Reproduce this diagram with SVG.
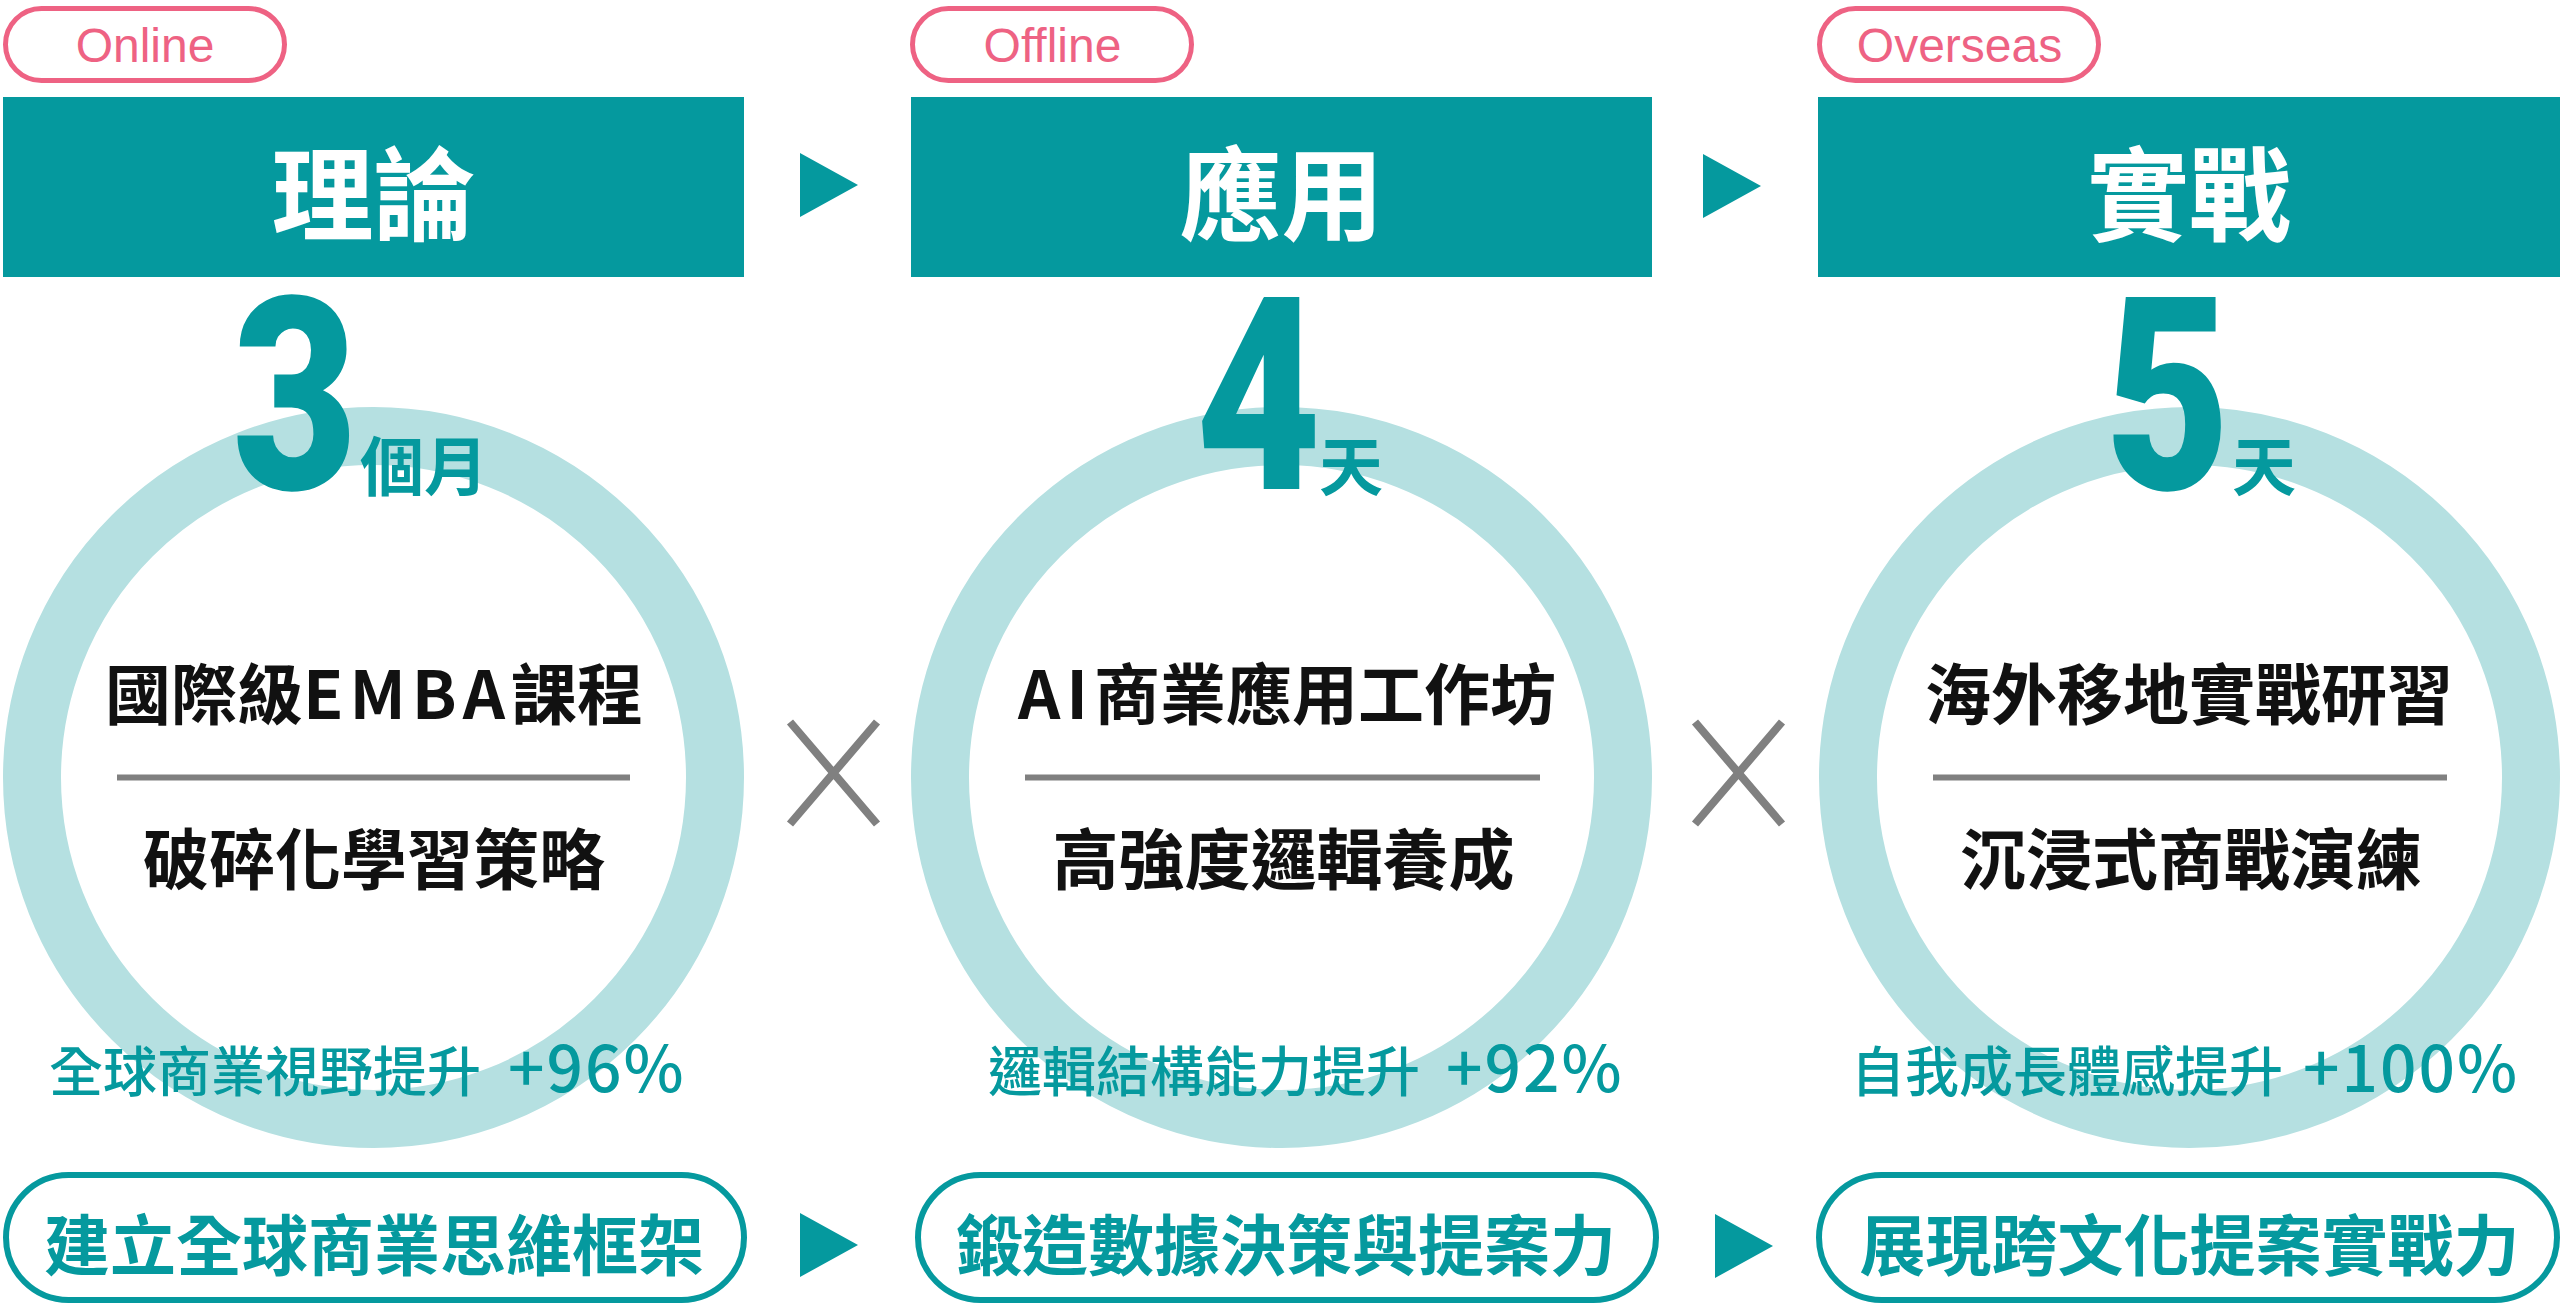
<svg xmlns="http://www.w3.org/2000/svg" width="2560" height="1313" viewBox="0 0 2560 1313">
<style>
.tag{fill:#fff;stroke:#EE6283;stroke-width:5}
.tagt{font-family:"Liberation Sans",Arial,sans-serif;font-size:48px;fill:#EE6283;text-anchor:middle}
.hdr{fill:#05999E}
.hdrt{font-family:"Noto Sans CJK TC","Noto Sans CJK SC",sans-serif;font-weight:700;font-size:102px;fill:#fff;text-anchor:middle}
.ring{fill:none;stroke:#B5E0E1;stroke-width:58}
.num{font-family:Roboto,"Liberation Sans",sans-serif;font-weight:900;font-size:270px;fill:#05999E;text-anchor:middle}
.unit{font-family:"Noto Sans CJK TC","Noto Sans CJK SC",sans-serif;font-weight:700;font-size:64px;fill:#05999E}
.main{font-family:"Noto Sans CJK TC","Noto Sans CJK SC",sans-serif;font-weight:700;font-size:66px;fill:#111;text-anchor:middle}
.sep{stroke:#808080;stroke-width:6}
.pct{font-family:"Noto Sans CJK TC","Noto Sans CJK SC",sans-serif;font-weight:500;font-size:54px;fill:#05999E}
.pctn{font-size:64px;letter-spacing:2px}
.pill{fill:none;stroke:#05999E;stroke-width:6}
.pillt{font-family:"Noto Sans CJK TC","Noto Sans CJK SC",sans-serif;font-weight:700;font-size:66px;fill:#05999E;text-anchor:middle}
.arr{fill:#05999E}
.times{stroke:#808080;stroke-width:8;fill:none}
</style>
<rect width="2560" height="1313" fill="#fff"/>

<g id="col-online">
  <g id="tag-online"><rect class="tag" x="5.5" y="8.5" width="279" height="72" rx="36"/><text class="tagt" x="145" y="62">Online</text></g>
  <g id="header-theory"><rect class="hdr" x="3" y="97" width="741" height="180"/><text class="hdrt" x="373.5" y="233">理論</text></g>
  <g id="circle-theory">
    <circle class="ring" cx="373.5" cy="777.5" r="341.5"/>
    <text class="num" transform="translate(295,489) scale(0.8,1)">3</text>
    <text class="unit" x="360" y="490">個月</text>
    <text class="main" x="374" y="719">國際級<tspan letter-spacing="6">EMBA</tspan>課程</text>
    <line class="sep" x1="117" y1="777.5" x2="630" y2="777.5"/>
    <text class="main" x="374" y="884">破碎化學習策略</text>
    <text class="pct" x="49" y="1092">全球商業視野提升<tspan class="pctn" x="508">+96%</tspan></text>
  </g>
  <g id="outcome-theory"><rect class="pill" x="6" y="1175" width="738" height="125" rx="62.5"/><text class="pillt" x="374" y="1270">建立全球商業思維框架</text></g>
</g>

<g id="col-offline">
  <g id="tag-offline"><rect class="tag" x="912.5" y="8.5" width="279" height="72" rx="36"/><text class="tagt" x="1052.5" y="62">Offline</text></g>
  <g id="header-application"><rect class="hdr" x="911" y="97" width="741" height="180"/><text class="hdrt" x="1281.5" y="233">應用</text></g>
  <g id="circle-application">
    <circle class="ring" cx="1281.5" cy="777.5" r="341.5"/>
    <text class="num" transform="translate(1258.5,489) scale(0.8,1)">4</text>
    <text class="unit" x="1319" y="490">天</text>
    <text class="main" x="1287" y="719"><tspan letter-spacing="6">AI</tspan>商業應用工作坊</text>
    <line class="sep" x1="1025" y1="777.5" x2="1540" y2="777.5"/>
    <text class="main" x="1283.5" y="884">高強度邏輯養成</text>
    <text class="pct" x="988" y="1092">邏輯結構能力提升<tspan class="pctn" x="1446">+92%</tspan></text>
  </g>
  <g id="outcome-application"><rect class="pill" x="918" y="1175" width="738" height="125" rx="62.5"/><text class="pillt" x="1286" y="1270">鍛造數據決策與提案力</text></g>
</g>

<g id="col-overseas">
  <g id="tag-overseas"><rect class="tag" x="1819.5" y="8.5" width="279" height="72" rx="36"/><text class="tagt" x="1959.5" y="62">Overseas</text></g>
  <g id="header-practice"><rect class="hdr" x="1818" y="97" width="742" height="180"/><text class="hdrt" x="2189" y="233">實戰</text></g>
  <g id="circle-practice">
    <circle class="ring" cx="2189.5" cy="777.5" r="341.5"/>
    <text class="num" transform="translate(2167.5,489) scale(0.8,1)">5</text>
    <text class="unit" x="2232" y="490">天</text>
    <text class="main" x="2189" y="719">海外移地實戰研習</text>
    <line class="sep" x1="1933" y1="777.5" x2="2447" y2="777.5"/>
    <text class="main" x="2191" y="884">沉浸式商戰演練</text>
    <text class="pct" x="1851" y="1092">自我成長體感提升<tspan class="pctn" x="2303">+100%</tspan></text>
  </g>
  <g id="outcome-practice"><rect class="pill" x="1819" y="1175" width="738" height="125" rx="62.5"/><text class="pillt" x="2189.5" y="1270">展現跨文化提案實戰力</text></g>
</g>

<g id="connectors">
  <polygon class="arr" points="800,153 858,185 800,217"/>
  <polygon class="arr" points="1703,154 1761,186 1703,218"/>
  <polygon class="arr" points="800,1213 858,1245 800,1277"/>
  <polygon class="arr" points="1715,1214 1773,1246 1715,1278"/>
  <path class="times" d="M790,722 L877,824 M877,722 L790,824"/>
  <path class="times" d="M1695,722 L1782,824 M1782,722 L1695,824"/>
</g>
</svg>
